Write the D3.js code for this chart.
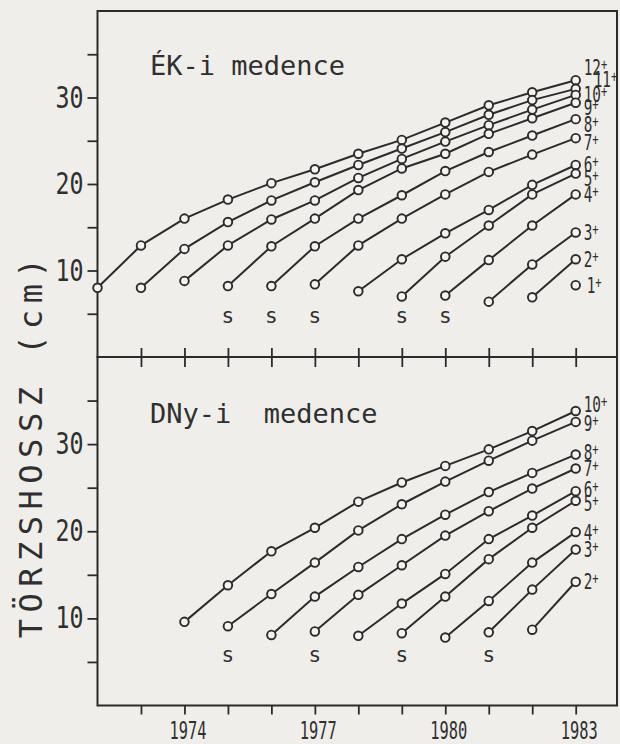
<!DOCTYPE html>
<html>
<head>
<meta charset="utf-8">
<script src="https://cdn.jsdelivr.net/npm/d3@7"></script>
<style>
	html, body { margin: 0; padding: 0; background: #efeeea; }
	svg text { font-family: "DejaVu Sans Mono", monospace; fill: #2f2f2f; }
	.title { white-space: pre; }
</style>
</head>
<body>
<div class="container"></div>
<script>

const years = [1972, 1973, 1974, 1975, 1976, 1977, 1978, 1979, 1980, 1981, 1982, 1983];
const xTickYears = [1973, 1974, 1975, 1976, 1977, 1978, 1979, 1980, 1981, 1982, 1983];
const xLabelYears = [1974, 1977, 1980, 1983];
const yTicks = [5, 10, 15, 20, 25, 30, 35];
const yLabels = [10, 20, 30];

// ÉK-i medence: one row per year class, values from its first year up to 1983
const ekAges = ['12+', '11+', '10+', '9+', '8+', '7+', '6+', '5+', '4+', '3+', '2+', '1+'];
const ekStart = [1972, 1973, 1974, 1975, 1976, 1977, 1978, 1979, 1980, 1981, 1982, 1983];
const ekLengths = [
	[8.0, 12.9, 16.0, 18.2, 20.1, 21.7, 23.5, 25.1, 27.1, 29.1, 30.6, 32.0],
	[8.0, 12.5, 15.6, 18.1, 20.2, 22.2, 24.1, 26.0, 28.0, 29.7, 31.0],
	[8.8, 12.9, 15.9, 18.1, 20.7, 22.9, 24.9, 26.8, 28.6, 30.3],
	[8.2, 12.8, 16.0, 19.3, 21.8, 23.5, 25.8, 27.6, 29.4],
	[8.2, 12.8, 16.0, 18.7, 21.5, 23.7, 25.6, 27.5],
	[8.4, 12.9, 16.0, 18.8, 21.4, 23.4, 25.3],
	[7.6, 11.3, 14.3, 17.0, 19.9, 22.2],
	[7.0, 11.6, 15.2, 18.8, 21.2],
	[7.1, 11.2, 15.2, 18.8],
	[6.4, 10.7, 14.4],
	[6.9, 11.3],
	[8.3]
];
const ekSYears = [1975, 1976, 1977, 1979, 1980];

// DNy-i medence
const dnyAges = ['10+', '9+', '8+', '7+', '6+', '5+', '4+', '3+', '2+'];
const dnyStart = [1974, 1975, 1976, 1977, 1978, 1979, 1980, 1981, 1982];
const dnyLengths = [
	[9.6, 13.8, 17.7, 20.4, 23.4, 25.6, 27.5, 29.4, 31.5, 33.8],
	[9.1, 12.8, 16.4, 20.1, 23.1, 25.7, 28.1, 30.4, 32.55],
	[8.1, 12.5, 15.9, 19.1, 21.9, 24.5, 26.7, 28.8],
	[8.5, 12.7, 16.1, 19.5, 22.3, 24.9, 27.2],
	[8.0, 11.7, 15.1, 19.1, 21.8, 24.6],
	[8.3, 12.5, 16.8, 20.4, 23.5],
	[7.8, 12.0, 16.4, 19.9],
	[8.4, 13.3, 17.9],
	[8.7, 14.2]
];
const dnySYears = [1975, 1977, 1979, 1981];

// small nudges for the end labels where they crowd
const ekLabelNudge = { '12+': [0, -13], '11+': [10, -9], '9+': [0, 5], '8+': [0, 5], '7+': [0, 4], '5+': [0, 5], '1+': [3, 0] };
const dnyLabelNudge = { '10+': [0, -7], '9+': [0, 2], '8+': [0, -2], '6+': [0, -2], '5+': [0, 3] };

const width = 620, height = 744;
const frame = { left: 97.5, right: 617, top: 11, mid: 357, bottom: 705.5 };
const ink = '#2b2b2b';

const svg = d3.select('.container')
	.append('svg')
		.attr('width', width)
		.attr('height', height);

svg.append('rect')
	.attr('width', width)
	.attr('height', height)
	.attr('fill', '#efeeea');

const x = d3.scaleLinear()
	.domain([years[0], 1983.95])
	.range([frame.left, frame.right]);

function drawPanel(top, bottom, ages, starts, lengths, sYears, nudge, title, sOffset) {

	const y = d3.scaleLinear()
		.domain([0, 40])
		.range([bottom, top]);

	const g = svg.append('g');

	g.append('rect')
		.attr('x', frame.left)
		.attr('y', top)
		.attr('width', frame.right - frame.left)
		.attr('height', bottom - top)
		.attr('fill', 'none')
		.attr('stroke', ink)
		.attr('stroke-width', 2);

	const yAxis = g.append('g')
		.attr('transform', `translate(${ frame.left }, 0)`)
		.call(d3.axisLeft(y)
			.tickValues(yTicks)
			.tickSize(10)
			.tickPadding(4)
			.tickFormat((v) => yLabels.includes(v) ? v : ''));

	yAxis.select('.domain').remove();
	yAxis.selectAll('line').attr('stroke', ink).attr('stroke-width', 1.8);
	yAxis.selectAll('text')
		.filter((v) => yLabels.includes(v))
			.attr('font-size', 30)
			.attr('textLength', 28)
			.attr('lengthAdjust', 'spacingAndGlyphs')
			.attr('fill', '#333');

	const cohorts = lengths.map((vals, i) => ({
		age: ages[i],
		points: vals.map((v, j) => ({ year: starts[i] + j, value: v }))
	}));

	const line = d3.line()
		.x((p) => x(p.year))
		.y((p) => y(p.value));

	g.selectAll('path.cohort')
		.data(cohorts)
		.enter()
		.append('path')
			.attr('class', 'cohort')
			.attr('d', (c) => line(c.points))
			.attr('fill', 'none')
			.attr('stroke', ink)
			.attr('stroke-width', 2);

	g.selectAll('circle')
		.data(cohorts.flatMap((c) => c.points))
		.enter()
		.append('circle')
			.attr('cx', (p) => x(p.year))
			.attr('cy', (p) => y(p.value))
			.attr('r', 4.3)
			.attr('fill', '#f4f3ef')
			.attr('stroke', ink)
			.attr('stroke-width', 1.9);

	const labels = g.selectAll('g.age')
		.data(cohorts)
		.enter()
		.append('g')
			.attr('class', 'age')
			.attr('transform', (c) => {
				const last = c.points[c.points.length - 1];
				const n = nudge[c.age] || [0, 0];
				return `translate(${ x(last.year) + 8 + n[0] }, ${ y(last.value) + 7.5 + n[1] }) scale(0.7, 1)`;
			});

	const ageText = labels.append('text')
		.attr('font-size', 20.5);

	ageText.append('tspan')
		.text((c) => c.age.replace('+', ''));

	ageText.append('tspan')
		.attr('font-size', 15)
		.attr('dy', -5)
		.text('+');

	g.selectAll('text.s')
		.data(sYears)
		.enter()
		.append('text')
			.attr('class', 's')
			.attr('x', (yr) => x(yr))
			.attr('y', bottom - sOffset)
			.attr('text-anchor', 'middle')
			.attr('font-size', 21)
			.attr('fill', '#4a4a4a')
			.text('s');

	g.append('text')
		.attr('class', 'title')
		.attr('x', 150)
		.attr('y', top + (title.length > 12 ? 66 : 64))
		.attr('font-size', 27)
		.text(title);

	return y;
}

drawPanel(frame.top, frame.mid, ekAges, ekStart, ekLengths, ekSYears, ekLabelNudge, 'ÉK-i medence', 34);
drawPanel(frame.mid, frame.bottom, dnyAges, dnyStart, dnyLengths, dnySYears, dnyLabelNudge, 'DNy-i  medence', 44);

// ticks along the shared border, pointing into both panels
const xTickAxis = (axis, size) => axis.tickValues(xTickYears).tickSize(size).tickFormat('');

const midUp = svg.append('g')
	.attr('transform', `translate(0, ${ frame.mid })`)
	.call(xTickAxis(d3.axisBottom(x), -9));
const midDown = svg.append('g')
	.attr('transform', `translate(0, ${ frame.mid })`)
	.call(xTickAxis(d3.axisTop(x), -10));

const xAxis = svg.append('g')
	.attr('transform', `translate(0, ${ frame.bottom })`)
	.call(d3.axisBottom(x)
		.tickValues(xTickYears)
		.tickSize(9)
		.tickPadding(7)
		.tickFormat((yr) => xLabelYears.includes(yr) ? yr : ''));

[midUp, midDown, xAxis].forEach((a) => {
	a.select('.domain').remove();
	a.selectAll('line').attr('stroke', ink).attr('stroke-width', 1.8);
});

xAxis.selectAll('text')
	.filter((yr) => xLabelYears.includes(yr))
		.attr('font-size', 24)
		.attr('dx', 3)
		.attr('textLength', 37)
		.attr('lengthAdjust', 'spacingAndGlyphs')
		.attr('fill', '#333');

svg.append('text')
	.attr('transform', 'translate(42, 445) rotate(-90)')
	.attr('text-anchor', 'middle')
	.attr('font-size', 32)
	.attr('letter-spacing', 6.5)
	.attr('fill', '#333')
	.text('TÖRZSHOSSZ (cm)');

</script>
</body>
</html>
